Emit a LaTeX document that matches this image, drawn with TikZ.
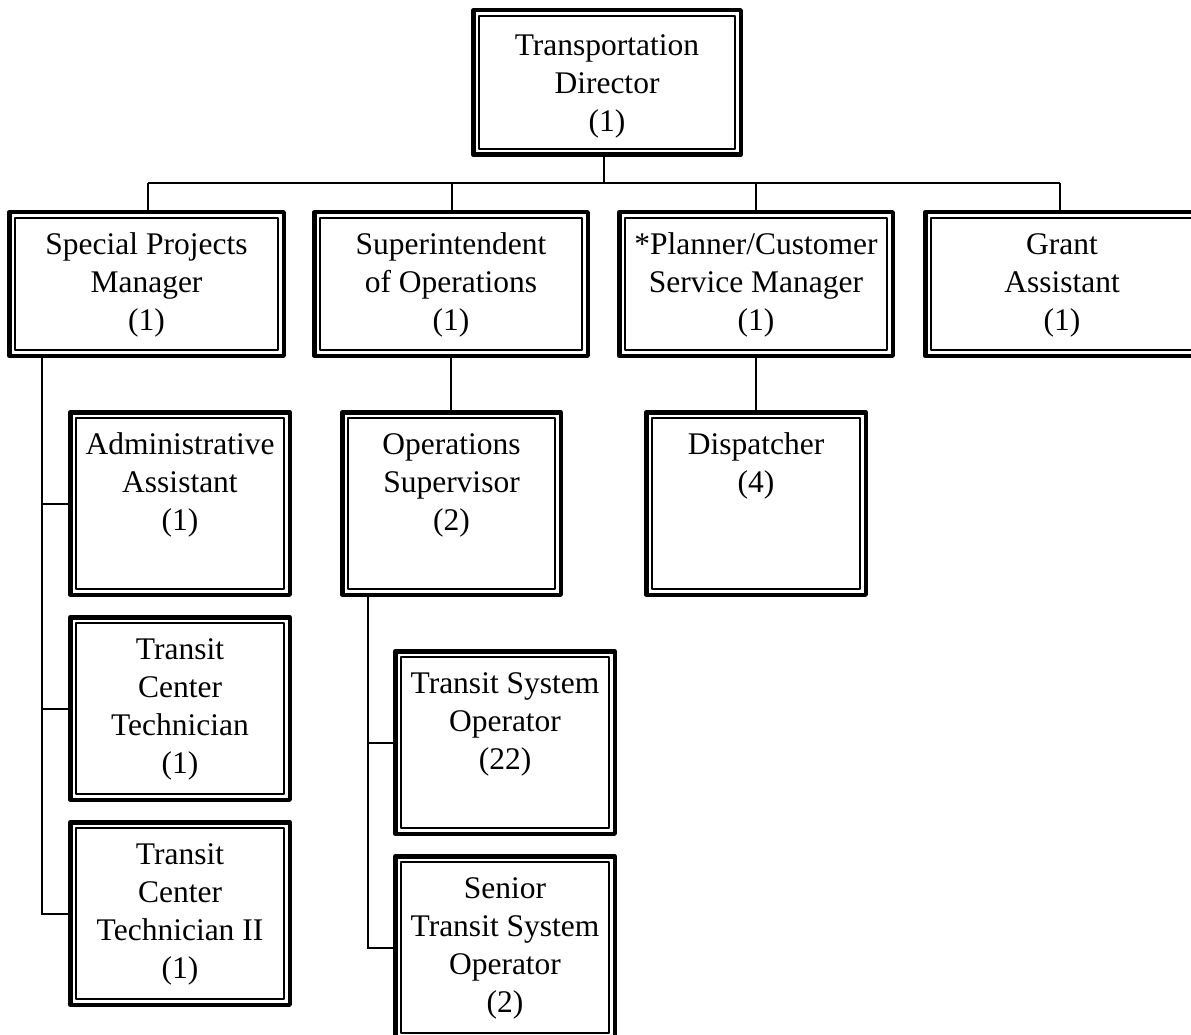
\documentclass[tikz,border=0pt]{standalone}
\usepackage{fontspec}
\setmainfont{Liberation Serif}
\tikzset{
  orgb/.style={draw=black, line width=4.5pt, line join=round, rectangle, inner sep=0pt, fill=white,
    font=\fontsize{31.5}{38}\selectfont,
    path picture={\draw[line width=1.5pt]
      ([shift={(5.8pt,5.8pt)}]path picture bounding box.south west) rectangle
      ([shift={(-5.8pt,-5.8pt)}]path picture bounding box.north east);}},
  conn/.style={draw=black, line width=2pt}
}
\newlength{\orgtop}
\setlength{\orgtop}{42pt}
\newcommand{\orgbox}[6]{%
  \pgfmathsetmacro\obw{#4-#2-4.5}%
  \pgfmathsetmacro\obh{#5-#3-4.5}%
  \node[orgb, minimum width=\obw pt, minimum height=\obh pt] (#1) at ({(#2+#4)/2},{(#3+#5)/2})
    {\parbox[c][\obh pt][t]{\obw pt}{\centering\rule{0pt}{\orgtop}#6\par}};%
}
\begin{document}
\begin{tikzpicture}[x=1pt,y=-1pt]
\useasboundingbox (0,0) rectangle (1191,1035);
\clip (0,0) rectangle (1191,1035);
\fill[white] (0,0) rectangle (1191,1035);

\coordinate (busL) at (148,183);
\coordinate (busR) at (1060,183);
\coordinate (ltrunk) at (42,0);
\coordinate (mtrunk) at (368,0);

% connectors first (boxes drawn on top)
\draw[conn] (604,157) coordinate (dirdrop) -- (dirdrop |- busL);
\draw[conn] (busL) -- (busR);
\draw[conn] (busL) -- (148,210) coordinate (spmtop);
\draw[conn] (452,183) coordinate (supbus) -- (452,210);
\draw[conn] (756,183) coordinate (plnbus) -- (756,210);
\draw[conn] (busR) -- (1060,210);

\setlength{\orgtop}{45pt}
\orgbox{dir}{471}{8}{743}{157}{Transportation\\Director\\(1)}
\setlength{\orgtop}{42pt}
\orgbox{spm}{7}{210}{286}{358}{Special Projects\\Manager\\(1)}
\orgbox{sup}{312}{210}{590}{358}{Superintendent\\of Operations\\(1)}
\orgbox{pln}{617}{210}{895}{358}{*Planner/Customer\\Service Manager\\(1)}
\orgbox{gra}{923}{210}{1201}{358}{Grant\\Assistant\\(1)}
\orgbox{adm}{68}{410}{292}{597}{Administrative\\Assistant\\(1)}
\orgbox{tct}{68}{615}{292}{802}{Transit\\Center\\Technician\\(1)}
\orgbox{tcb}{68}{820}{292}{1007}{Transit\\Center\\Technician II\\(1)}
\orgbox{ops}{340}{410}{563}{597}{Operations\\Supervisor\\(2)}
\orgbox{dis}{644}{410}{868}{597}{Dispatcher\\(4)}
\orgbox{tso}{393}{649}{617}{836}{Transit System\\Operator\\(22)}
\orgbox{sen}{393}{854}{617}{1041}{Senior\\Transit System\\Operator\\(2)}

\draw[conn] (spm.south -| ltrunk) -- (tcb.west -| ltrunk) -- (tcb.west);
\draw[conn] (adm.west -| ltrunk) -- (adm.west);
\draw[conn] (tct.west -| ltrunk) -- (tct.west);
\draw[conn] (sup.south) -- (sup.south |- ops.north);
\draw[conn] (pln.south) -- (pln.south |- dis.north);
\draw[conn] (ops.south -| mtrunk) -- (sen.west -| mtrunk) -- (sen.west);
\draw[conn] (tso.west -| mtrunk) -- (tso.west);
\end{tikzpicture}
\end{document}
